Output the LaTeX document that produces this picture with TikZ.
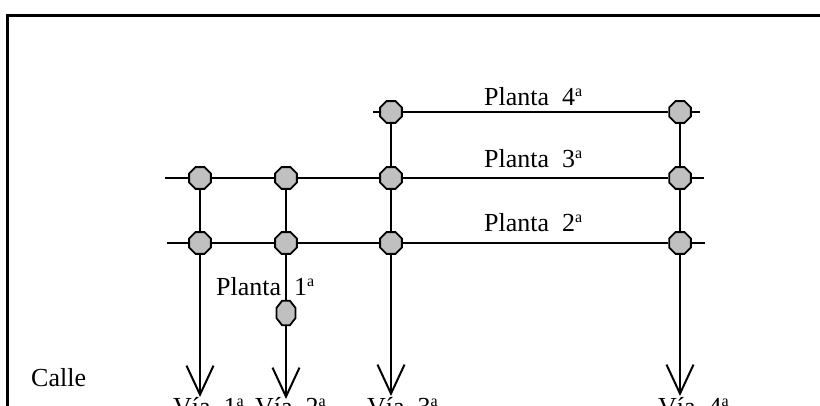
\documentclass[tikz,border=0pt]{standalone}
\usepackage{fontspec}
\setmainfont{Liberation Serif}
\usetikzlibrary{shapes.geometric,arrows.meta}
\definecolor{octfill}{RGB}{192,192,192}
\newcommand{\ordsup}[1]{#1\raisebox{9pt}{\fontsize{16}{16}\selectfont a}}
\tikzset{
  oct/.style={regular polygon, regular polygon sides=8, minimum size=23.5pt, inner sep=0pt, draw=black, line width=1.8pt, fill=octfill},
  octtall/.style={oct, xscale=0.88, yscale=1.12, transform shape},
  wire/.style={line width=2pt},
  arr/.style={wire, -{Straight Barb[length=29pt,width=27pt]}},
  lbl/.style={font=\fontsize{26}{30}\selectfont, inner sep=0pt, anchor=base west},
  frame/.style={line width=3pt}
}
\begin{document}
\begin{tikzpicture}[x=1pt,y=-1pt]
\useasboundingbox (0,0) rectangle (820,406);
\clip (0,0) rectangle (820,406);
\fill[white] (0,0) rectangle (820,406);
\draw[frame] (830,16) -- (7,16) -- (7,420);

% floor nodes
\node[oct] (p4a) at (391,112) {};
\node[oct] (p4b) at (680,112) {};
\node[oct] (p3a) at (200,178) {};
\node[oct] (p3b) at (286,178) {};
\node[oct] (p3c) at (391,178) {};
\node[oct] (p3d) at (680,178) {};
\node[oct] (p2a) at (200,243) {};
\node[oct] (p2b) at (286,243) {};
\node[oct] (p2c) at (391,243) {};
\node[oct] (p2d) at (680,243) {};
\node[octtall] (p1) at (286,313) {};

% free ends
\coordinate (r4w) at (373,112);
\coordinate (r4e) at (700,112);
\coordinate (r3w) at (165,178);
\coordinate (r3e) at (704,178);
\coordinate (r2w) at (167,243);
\coordinate (r2e) at (705,243);
\coordinate (v1) at (200,397);
\coordinate (v2) at (286,399);
\coordinate (v3) at (391,396);
\coordinate (v4) at (680,396);

% horizontal floors
\draw[wire] (r4w) -- (p4a) -- (p4b) -- (r4e);
\draw[wire] (r3w) -- (p3a) -- (p3b) -- (p3c) -- (p3d) -- (r3e);
\draw[wire] (r2w) -- (p2a) -- (p2b) -- (p2c) -- (p2d) -- (r2e);

% vertical risers
\draw[wire] (p3a) -- (p2a);
\draw[arr] (p2a) -- (v1);
\draw[wire] (p3b) -- (p2b) -- (p1);
\draw[arr] (p1) -- (v2);
\draw[wire] (p4a) -- (p3c) -- (p2c);
\draw[arr] (p2c) -- (v3);
\draw[wire] (p4b) -- (p3d) -- (p2d);
\draw[arr] (p2d) -- (v4);

% labels
\node[lbl] (l4) at (484,106) {Planta\ \ \ordsup{4}};
\node[lbl] (l3) at (484,168) {Planta\ \ \ordsup{3}};
\node[lbl] (l2) at (484,232) {Planta\ \ \ordsup{2}};
\node[lbl] (l1) at (216,296) {Planta\ \ \ordsup{1}};
\node[lbl] (calle) at (31,386) {Calle};
\node[lbl] (via1) at (173,415) {Vía\ \ \ordsup{1}};
\node[lbl] (via2) at (255,415) {Vía\ \ \ordsup{2}};
\node[lbl] (via3) at (367,415) {Vía\ \ \ordsup{3}};
\node[lbl] (via4) at (658,415) {Vía\ \ \ordsup{4}};
\end{tikzpicture}
\end{document}
